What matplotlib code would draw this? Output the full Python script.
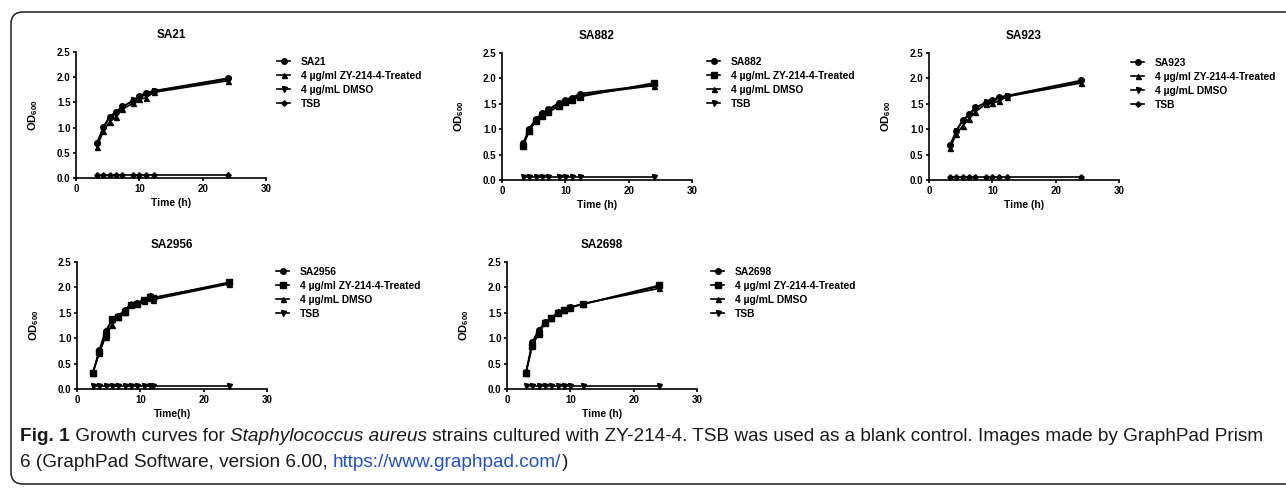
import matplotlib
matplotlib.use("Agg")
import matplotlib.pyplot as plt
from matplotlib import font_manager
from matplotlib.patches import FancyBboxPatch

# ---- data ----
times_a = [3.3, 4.3, 5.3, 6.3, 7.3, 9, 10, 11, 12.3, 24]
times_2956 = [2.5, 3.5, 4.5, 5.5, 6.5, 7.5, 8.5, 9.5, 10.5, 11.5, 12, 24]
times_2698 = [3, 4, 5, 6, 7, 8, 9, 10, 12, 24]

sa21 = [0.69, 1.01, 1.22, 1.31, 1.42, 1.52, 1.62, 1.69, 1.73, 1.98]
sa21_zy = [0.61, 0.93, 1.11, 1.22, 1.37, 1.48, 1.56, 1.59, 1.70, 1.93]
sa21_dmso = [0.68, 0.98, 1.20, 1.28, 1.41, 1.54, 1.60, 1.65, 1.72, 1.96]
sa21_tsb = [0.05] * 10

sa882 = [0.72, 1.01, 1.20, 1.31, 1.39, 1.52, 1.58, 1.62, 1.70, 1.88]
sa882_zy = [0.66, 0.96, 1.16, 1.26, 1.33, 1.46, 1.54, 1.57, 1.64, 1.91]
sa882_dmso = [0.69, 0.99, 1.18, 1.29, 1.37, 1.50, 1.56, 1.60, 1.67, 1.86]
sa882_tsb = [0.05] * 10

sa923 = [0.68, 0.97, 1.18, 1.29, 1.43, 1.52, 1.57, 1.63, 1.66, 1.96]
sa923_zy = [0.63, 0.90, 1.06, 1.21, 1.34, 1.50, 1.51, 1.55, 1.64, 1.91]
sa923_dmso = [0.66, 0.96, 1.16, 1.27, 1.41, 1.53, 1.54, 1.60, 1.65, 1.94]
sa923_tsb = [0.05] * 10

sa2956 = [0.32, 0.76, 1.14, 1.35, 1.44, 1.55, 1.66, 1.69, 1.75, 1.83, 1.80, 2.08]
sa2956_zy = [0.31, 0.72, 1.06, 1.38, 1.42, 1.52, 1.65, 1.68, 1.76, 1.82, 1.79, 2.10]
sa2956_dmso = [0.32, 0.70, 1.03, 1.26, 1.41, 1.51, 1.70, 1.69, 1.74, 1.80, 1.76, 2.07]
sa2956_tsb = [0.05] * 12

sa2698 = [0.33, 0.93, 1.16, 1.31, 1.40, 1.51, 1.56, 1.61, 1.67, 2.02]
sa2698_zy = [0.32, 0.85, 1.09, 1.30, 1.39, 1.50, 1.55, 1.60, 1.67, 2.04]
sa2698_dmso = [0.32, 0.88, 1.12, 1.31, 1.40, 1.51, 1.56, 1.61, 1.68, 1.98]
sa2698_tsb = [0.05] * 10

zy_ml = "4 µg/ml ZY-214-4-Treated"
zy_mL = "4 µg/mL ZY-214-4-Treated"
dmso = "4 µg/mL DMSO"

x_ticks = [0, 10, 20, 30]
y_ticks = [0.0, 0.5, 1.0, 1.5, 2.0, 2.5]

caption_1 = [("Fig. 1", "bold"), (" Growth curves for ", "normal"),
             ("Staphylococcus aureus", "italic"),
             (" strains cultured with ZY-214-4. TSB was used as a blank control. "
              "Images made by GraphPad Prism", "normal")]
caption_2 = [("6 (GraphPad Software, version 6.00, ", "normal"),
             ("https://www.graphpad.com/", "link"), (")", "normal")]

W, H = 1286, 488

panels = [
    dict(title="SA21", t=times_a, xlabel="Time (h)", box=(76, 266, 52, 178), leg=(277, 57),
         series=[(sa21, "SA21", "o"), (sa21_zy, zy_ml, "^"),
                 (sa21_dmso, dmso, "v"), (sa21_tsb, "TSB", "D")]),
    dict(title="SA882", t=times_a, xlabel="Time (h)", box=(502, 692, 53, 180), leg=(707, 57),
         series=[(sa882, "SA882", "o"), (sa882_zy, zy_mL, "s"),
                 (sa882_dmso, dmso, "^"), (sa882_tsb, "TSB", "v")]),
    dict(title="SA923", t=times_a, xlabel="Time (h)", box=(929, 1119, 53, 180), leg=(1131, 58),
         series=[(sa923, "SA923", "o"), (sa923_zy, zy_ml, "^"),
                 (sa923_dmso, dmso, "v"), (sa923_tsb, "TSB", "D")]),
    dict(title="SA2956", t=times_2956, xlabel="Time(h)", box=(77, 267, 262, 389), leg=(276, 267),
         series=[(sa2956, "SA2956", "o"), (sa2956_zy, zy_ml, "s"),
                 (sa2956_dmso, dmso, "^"), (sa2956_tsb, "TSB", "v")]),
    dict(title="SA2698", t=times_2698, xlabel="Time (h)", box=(507, 697, 262, 389), leg=(711, 267),
         series=[(sa2698, "SA2698", "o"), (sa2698_zy, zy_ml, "s"),
                 (sa2698_dmso, dmso, "^"), (sa2698_tsb, "TSB", "v")]),
]

plt.rcParams["font.family"] = ["Liberation Sans", "DejaVu Sans"]
plt.rcParams["font.weight"] = "bold"
plt.rcParams["mathtext.fontset"] = "custom"
plt.rcParams["mathtext.rm"] = "Liberation Sans:bold"
plt.rcParams["mathtext.bf"] = "Liberation Sans:bold"
plt.rcParams["mathtext.it"] = "Liberation Sans:bold"

fig = plt.figure(figsize=(W / 100, H / 100), dpi=100)

# rounded frame, open to the right (inch units so the corners stay round)
frame = FancyBboxPatch((0.11, 0.04), 13.0, (H - 16) / 100,
                       boxstyle="round,pad=0,rounding_size=0.12",
                       transform=fig.dpi_scale_trans, fill=False,
                       edgecolor="#231f20", linewidth=1.1)
fig.patches.append(frame)

marker_size = {"o": 4.0, "s": 4.0, "^": 3.6, "v": 3.6, "D": 2.8}

for p in panels:
    l, r, top, bot = p["box"]
    ax = fig.add_axes([l / W, (H - bot) / H, (r - l) / W, (bot - top) / H])
    for y, lab, m in p["series"]:
        ax.plot(p["t"], y, marker=m, color="black", lw=1.2, ms=marker_size[m],
                label=lab, clip_on=False)
    ax.set_xlim(0, 30)
    ax.set_ylim(0, 2.5)
    ax.set_xticks(x_ticks)
    ax.set_yticks(y_ticks)
    ax.set_yticklabels([f"{v:.1f}" for v in y_ticks])
    for s in ("top", "right"):
        ax.spines[s].set_visible(False)
    for s in ("left", "bottom"):
        ax.spines[s].set_linewidth(1.2)
    ax.tick_params(direction="out", length=2.5, width=1.2, labelsize=7, pad=1.5)
    ax.set_title(p["title"], fontsize=8.5, fontweight="bold", pad=10)
    ax.set_xlabel(p["xlabel"], fontsize=7.4, fontweight="bold")
    ax.xaxis.set_label_coords(0.5, -20 / (bot - top))
    ax.xaxis.label.set_va("top")
    ax.set_ylabel(r"OD$_{600}$", fontsize=8, fontweight="bold")
    ax.yaxis.set_label_coords(-36 / (r - l), 0.5)
    lx, ly = p["leg"]
    ax.legend(loc="upper left", bbox_to_anchor=(lx / W, 1 - ly / H),
              bbox_transform=fig.transFigure, frameon=False,
              borderpad=0, borderaxespad=0, handlelength=1.3, handletextpad=1.0,
              labelspacing=0.38, prop=dict(weight="bold", size=7.4))

# caption
names = {f.name for f in font_manager.fontManager.ttflist}
cap_family = "Liberation Sans Narrow" if "Liberation Sans Narrow" in names else "Liberation Sans"
renderer = fig.canvas.get_renderer()


def draw_runs(x_px, base_px, runs, size):
    x = x_px
    items = []
    for txt, style in runs:
        kw = dict(fontsize=size, family=cap_family, color="#1a1a1a",
                  weight="normal", style="normal")
        if style == "bold":
            kw["weight"] = "bold"
        elif style == "italic":
            kw["style"] = "italic"
        elif style == "link":
            kw["color"] = "#1f4fd1"
        t = fig.text(x / W, 1 - base_px / H, txt, va="baseline", ha="left", **kw)
        bb = t.get_window_extent(renderer)
        x += bb.width
        items.append(t)
    return items, x - x_px


trial, width = draw_runs(20, 441, caption_1, 12)
for t in trial:
    t.remove()
cap_size = 12 * 1250 / width
draw_runs(20, 441, caption_1, cap_size)
draw_runs(20, 467, caption_2, cap_size)

fig.savefig("out.png", dpi=100)
